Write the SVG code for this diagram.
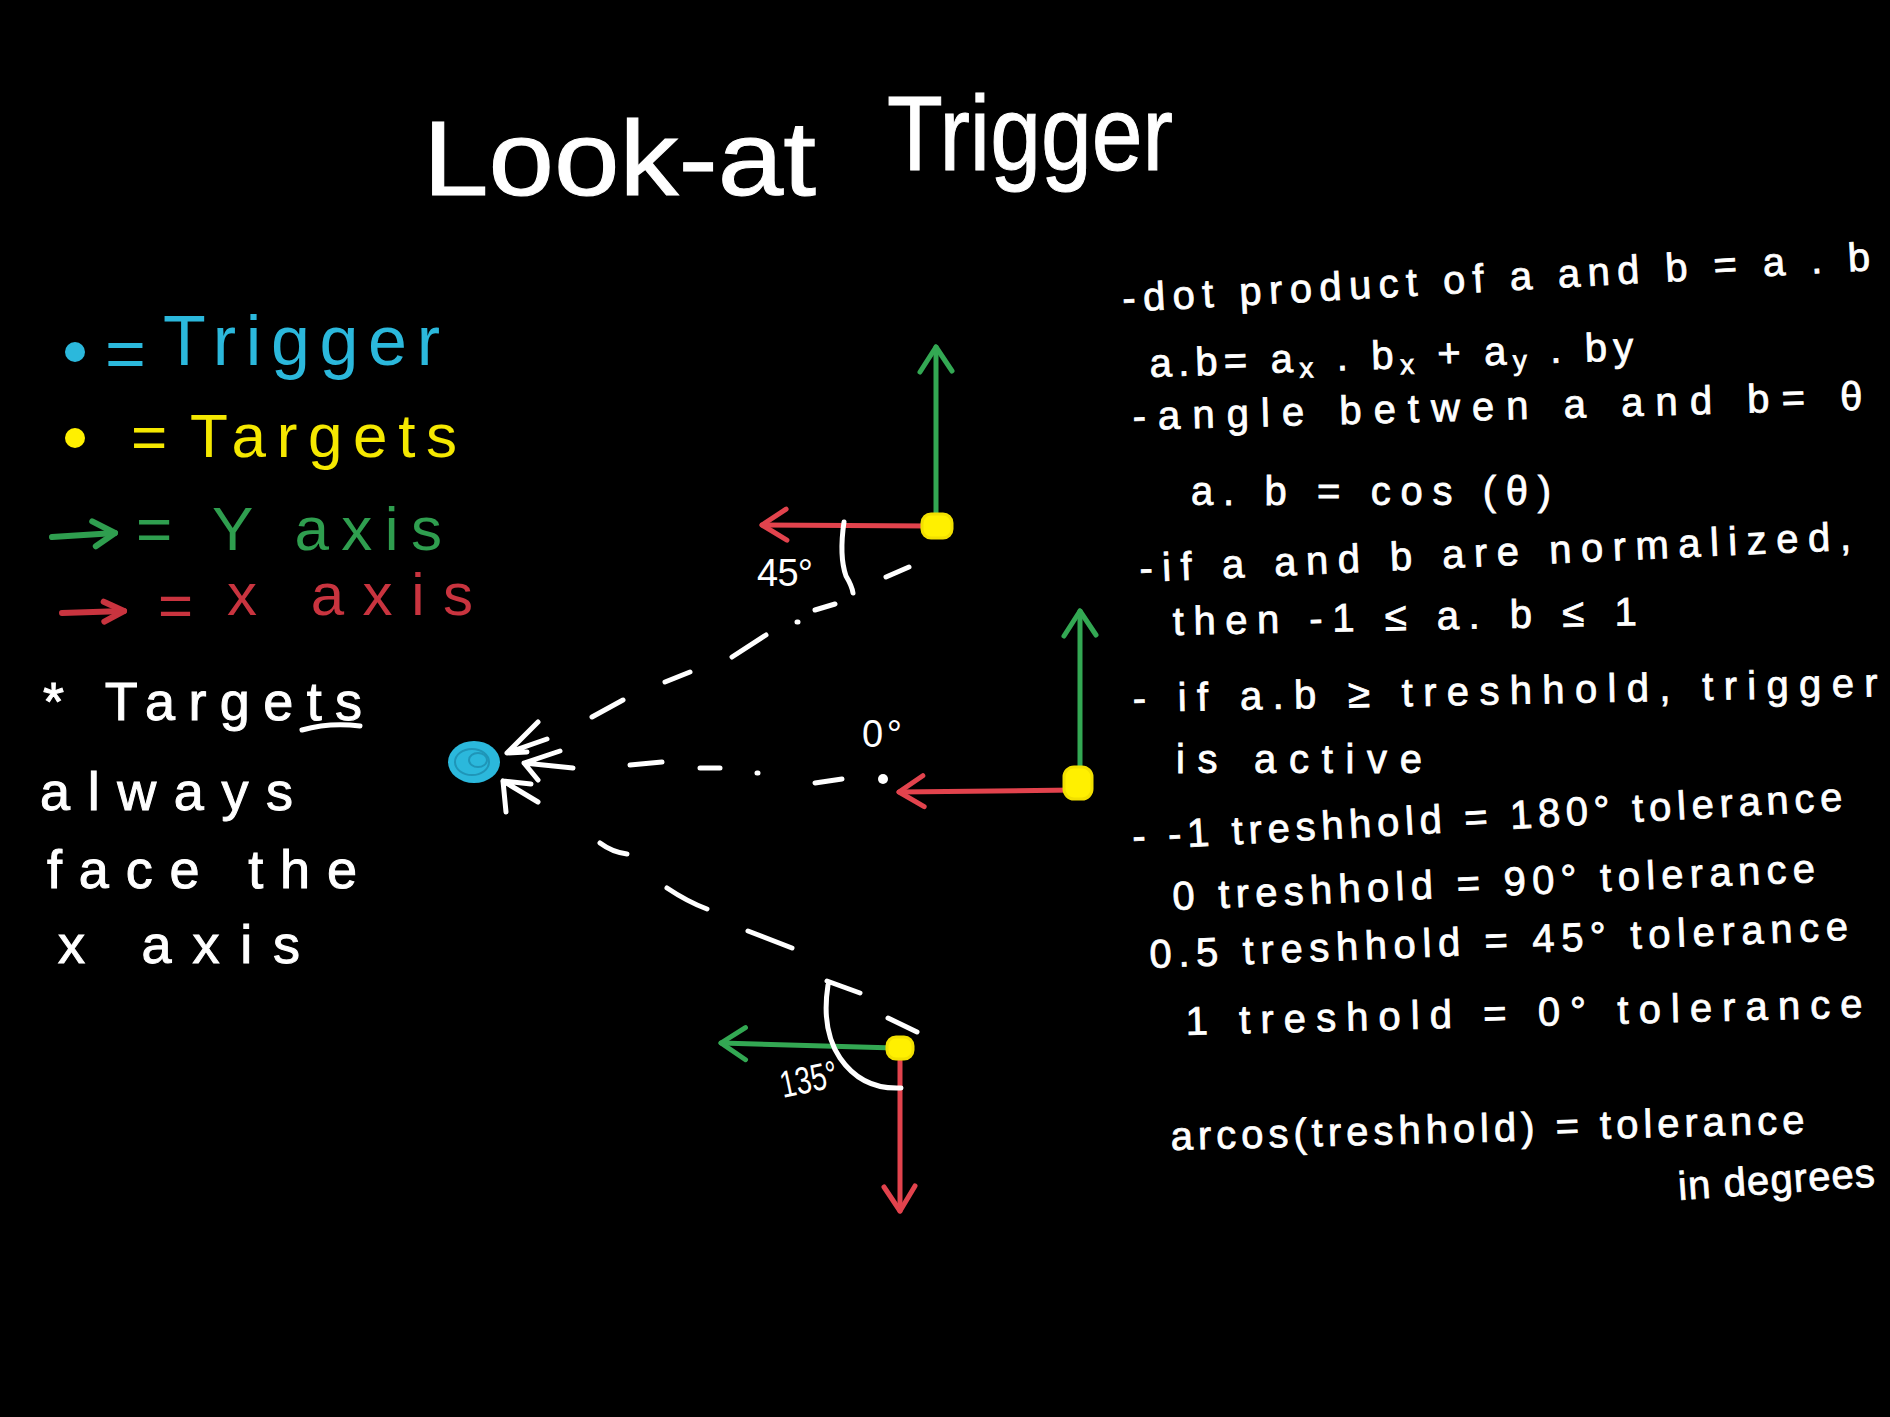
<svg xmlns="http://www.w3.org/2000/svg" width="1890" height="1417" viewBox="0 0 1890 1417">
<style>
  text { font-family: "Liberation Sans", Arial, sans-serif; }
  .w { fill: #ffffff; }
  .note { fill: #ffffff; font-size: 40px; stroke: #ffffff; stroke-width: 0.8; }
  .big { fill: #ffffff; font-size: 54px; stroke: #ffffff; stroke-width: 1; }
  .lbl { fill: #ffffff; font-size: 38px; }
  .dash { stroke: #ffffff; stroke-width: 5; fill: none; stroke-linecap: round; stroke-linejoin: round; }
  .ax-g { stroke: #33a853; stroke-width: 5; fill: none; stroke-linecap: round; }
  .ax-r { stroke: #e2434d; stroke-width: 5; fill: none; stroke-linecap: round; }
  .tgt { fill: #fff000; stroke: #f2e000; stroke-width: 3; }
</style>
<defs>
  <marker id="hg" viewBox="-32 -22 40 44" refX="0" refY="0" markerWidth="40" markerHeight="44" markerUnits="userSpaceOnUse" orient="auto">
    <path d="M -25 -16 L 0 0 L -24 16" fill="none" stroke="#33a853" stroke-width="5" stroke-linecap="round" stroke-linejoin="round"/>
  </marker>
  <marker id="hr" viewBox="-32 -22 40 44" refX="0" refY="0" markerWidth="40" markerHeight="44" markerUnits="userSpaceOnUse" orient="auto">
    <path d="M -25 -15 L 0 0 L -24 16" fill="none" stroke="#e2434d" stroke-width="5" stroke-linecap="round" stroke-linejoin="round"/>
  </marker>
  <marker id="hgl" viewBox="-32 -22 40 44" refX="0" refY="0" markerWidth="40" markerHeight="44" markerUnits="userSpaceOnUse" orient="auto">
    <path d="M -22 -13 L 0 0 L -20 12" fill="none" stroke="#2f9e4f" stroke-width="6" stroke-linecap="round" stroke-linejoin="round"/>
  </marker>
  <marker id="hrl" viewBox="-32 -22 40 44" refX="0" refY="0" markerWidth="40" markerHeight="44" markerUnits="userSpaceOnUse" orient="auto">
    <path d="M -20 -10 L 0 0 L -20 10" fill="none" stroke="#c9343f" stroke-width="6" stroke-linecap="round" stroke-linejoin="round"/>
  </marker>
</defs>
<rect x="0" y="0" width="1890" height="1417" fill="#000000"/>

<g id="title">
  <text class="w" font-size="105" stroke="#ffffff" stroke-width="1"><tspan x="423" y="195" textLength="393" lengthAdjust="spacingAndGlyphs">Look-at</tspan> <tspan x="887" y="170" textLength="286" lengthAdjust="spacingAndGlyphs">Trigger</tspan></text>
</g>

<g id="legend">
  <circle cx="75" cy="352" r="10" fill="#2bb8dc"/>
  <text fill="#2bb8dc" font-size="70"><tspan x="105" y="378">=</tspan> <tspan x="163" y="365" textLength="277" lengthAdjust="spacing">Trigger</tspan></text>
  <circle cx="75" cy="438" r="10" fill="#fff000"/>
  <text fill="#f5e800" font-size="62"><tspan x="131" y="458">=</tspan> <tspan x="190" y="457" textLength="267" lengthAdjust="spacing">Targets</tspan></text>
  <path d="M 52 537 L 115 533" fill="none" stroke="#2f9e4f" stroke-width="6" stroke-linecap="round" marker-end="url(#hgl)"/>
  <text fill="#2f9e4f" font-size="62"><tspan x="136" y="550">=</tspan> <tspan x="212" y="550" textLength="230" lengthAdjust="spacing">Y axis</tspan></text>
  <path d="M 62 613 L 124 611" fill="none" stroke="#c9343f" stroke-width="6" stroke-linecap="round" marker-end="url(#hrl)"/>
  <text fill="#c9343f" font-size="60"><tspan x="158" y="626">=</tspan> <tspan x="227" y="615" textLength="246" lengthAdjust="spacing">x axis</tspan></text>
</g>

<g id="note">
  <text class="big" x="43" y="720" textLength="319" lengthAdjust="spacing">* Targets</text>
  <path d="M 302 730 Q 330 722 360 726" class="dash"/>
  <text class="big" x="40" y="810" textLength="253" lengthAdjust="spacing">always</text>
  <text class="big" x="47" y="888" textLength="310" lengthAdjust="spacing">face the</text>
  <text class="big" x="58" y="963" textLength="242" lengthAdjust="spacing">x axis</text>
</g>

<g id="connectors">
  <path class="dash" d="M 592 717 L 623 700 M 665 682 L 690 672 M 732 657 L 766 635 M 797 622 L 798 622 M 815 610 L 835 604 M 886 577 L 909 567"/>
  <path class="dash" d="M 630 765 L 662 762 M 700 768 L 720 768 M 757 773 L 758 773 M 815 783 L 842 779"/>
  <circle cx="883" cy="779" r="5" fill="#ffffff"/>
  <path class="dash" d="M 600 843 Q 612 852 627 854 M 667 888 Q 688 902 707 909 M 748 931 L 792 948"/>
</g>

<g id="trigger">
  <ellipse cx="474" cy="762" rx="26" ry="21" fill="#2bb8dc"/>
  <ellipse cx="472" cy="762" rx="17" ry="13" fill="none" stroke="#1f95b8" stroke-width="2"/>
  <ellipse cx="478" cy="760" rx="9" ry="7" fill="none" stroke="#1f95b8" stroke-width="2"/>
  <path class="dash" d="M 547 739 L 507 753 M 538 722 L 507 753 L 527 752"/>
  <path class="dash" d="M 573 768 L 524 763 M 560 751 L 524 763 L 538 780"/>
  <path class="dash" d="M 538 802 L 503 781 M 506 812 L 503 781 L 531 784"/>
</g>

<g id="target-top">
  <path class="ax-g" d="M 936 525 L 936 347" marker-end="url(#hg)"/>
  <path class="ax-r" d="M 930 526 L 762 525" marker-end="url(#hr)"/>
  <rect x="922" y="514" width="30" height="24" rx="9" class="tgt"/>
  <path class="dash" d="M 844 522 Q 839 556 846 576 Q 852 586 853 593"/>
  <text class="lbl" x="757" y="586" textLength="56" lengthAdjust="spacing">45°</text>
</g>

<g id="target-middle">
  <path class="ax-g" d="M 1080 782 L 1080 611" marker-end="url(#hg)"/>
  <path class="ax-r" d="M 1075 790 L 899 792" marker-end="url(#hr)"/>
  <rect x="1064" y="767" width="28" height="32" rx="10" class="tgt"/>
  <text class="lbl" font-size="30" x="862" y="747" textLength="40" lengthAdjust="spacing">0°</text>
</g>

<g id="target-bottom">
  <path class="ax-g" d="M 895 1048 L 721 1043" marker-end="url(#hg)"/>
  <path class="ax-r" d="M 900 1052 L 900 1211" marker-end="url(#hr)"/>
  <rect x="887" y="1037" width="26" height="22" rx="9" class="tgt"/>
  <path class="dash" d="M 860 993 L 827 981 M 828 985 Q 821 1030 840 1058 Q 862 1090 901 1088 M 888 1018 L 917 1032"/>
  <text class="lbl" font-size="32" x="783" y="1098" textLength="58" lengthAdjust="spacingAndGlyphs" transform="rotate(-12 783 1098)">135°</text>
</g>

<g id="explanation">
  <text class="note" x="1123" y="312" textLength="749" lengthAdjust="spacing" transform="rotate(-3.2 1123 312)">-dot product of a and b = a . b</text>
  <text class="note" x="1150" y="377" textLength="484" lengthAdjust="spacing" transform="rotate(-2 1150 377)">a.b= a<tspan font-size="28" dy="6">x</tspan><tspan dy="-6"> . b</tspan><tspan font-size="28" dy="6">x</tspan><tspan dy="-6"> + a</tspan><tspan font-size="28" dy="6">y</tspan><tspan dy="-6"> . by</tspan></text>
  <text class="note" x="1133" y="430" textLength="730" lengthAdjust="spacing" transform="rotate(-1.6 1133 430)">-angle betwen a and b= θ</text>
  <text class="note" x="1191" y="505" textLength="360" lengthAdjust="spacing">a. b = cos (θ)</text>
  <text class="note" x="1140" y="582" textLength="712" lengthAdjust="spacing" transform="rotate(-2.6 1140 582)">-if a and b are normalized,</text>
  <text class="note" x="1173" y="635" textLength="464" lengthAdjust="spacing" transform="rotate(-1.2 1173 635)">then -1 ≤ a. b ≤ 1</text>
  <text class="note" x="1133" y="712" textLength="745" lengthAdjust="spacing" transform="rotate(-1.2 1133 712)">- if a.b ≥ treshhold, trigger</text>
  <text class="note" x="1176" y="773" textLength="246" lengthAdjust="spacing">is active</text>
  <text class="note" x="1133" y="850" textLength="711" lengthAdjust="spacing" transform="rotate(-3.2 1133 850)">- -1 treshhold = 180° tolerance</text>
  <text class="note" x="1173" y="910" textLength="643" lengthAdjust="spacing" transform="rotate(-2.5 1173 910)">0 treshhold = 90° tolerance</text>
  <text class="note" x="1150" y="968" textLength="699" lengthAdjust="spacing" transform="rotate(-2.3 1150 968)">0.5 treshhold = 45° tolerance</text>
  <text class="note" x="1186" y="1035" textLength="677" lengthAdjust="spacing" transform="rotate(-1.5 1186 1035)">1 treshold = 0° tolerance</text>
  <text class="note" x="1171" y="1150" textLength="634" lengthAdjust="spacing" transform="rotate(-1.5 1171 1150)">arcos(treshhold) = tolerance</text>
  <text class="note" x="1679" y="1200" textLength="197" lengthAdjust="spacing" transform="rotate(-4 1679 1200)">in degrees</text>
</g>
</svg>
